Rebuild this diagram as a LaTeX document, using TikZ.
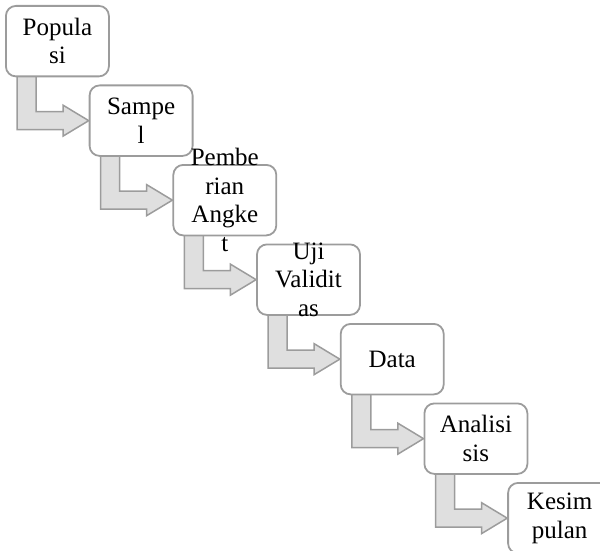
\documentclass[tikz,border=0pt]{standalone}
\usepackage{fontspec}
\setmainfont{Liberation Serif}
\usetikzlibrary{calc,backgrounds}
\definecolor{boxgray}{HTML}{9C9C9C}
\definecolor{arrgray}{HTML}{9C9C9C}
\definecolor{arrfill}{HTML}{DFDFDF}
\begin{document}
\begin{tikzpicture}[x=1pt,y=-1pt,
  box/.style={draw=boxgray, line width=1.8pt, fill=white, rounded corners=10pt,
    minimum width=103pt, minimum height=70.5pt, inner sep=0pt, anchor=north west},
  lbl/.style={font=\fontsize{25}{28.5}\selectfont, align=center, inner sep=0pt},
  barrow/.style={draw=arrgray, line width=1.5pt, fill=arrfill, line join=miter}]
\useasboundingbox (0,0) rectangle (600,551);
\clip (0,0) rectangle (600,551);
\node[box] (b0) at (5,5) {};
\node[box] (b1) at (88.7,84.5) {};
\node[box] (b2) at (172.4,164) {};
\node[box] (b3) at (256.1,243.5) {};
\node[box] (b4) at (339.8,323) {};
\node[box] (b5) at (423.5,402.5) {};
\node[box] (b6) at (507.2,482) {};
\begin{pgfonlayer}{background}
\foreach \n in {1,...,6}{
  \draw[barrow] ($(b\n.west)+(-71.7,-50)$) -- ($(b\n.west)+(-71.7,9)$)
    -- ($(b\n.west)+(-25.7,9)$) -- ($(b\n.west)+(-25.7,15.5)$)
    -- (b\n.west) -- ($(b\n.west)+(-25.7,-15.5)$)
    -- ($(b\n.west)+(-25.7,-9)$) -- ($(b\n.west)+(-52.7,-9)$)
    -- ($(b\n.west)+(-52.7,-50)$) -- cycle;
}
\end{pgfonlayer}
\node[lbl] (t0) at (b0.center) {Popula\\si};
\node[lbl] (t1) at (b1.center) {Sampe\\l};
\node[lbl] (t2) at (b2.center) {Pembe\\rian\\Angke\\t};
\node[lbl] (t3) at (b3.center) {Uji\\Validit\\as};
\node[lbl] (t4) at (b4.center) {Data};
\node[lbl] (t5) at (b5.center) {Analisi\\sis};
\node[lbl] (t6) at (b6.center) {Kesim\\pulan};
\end{tikzpicture}
\end{document}
